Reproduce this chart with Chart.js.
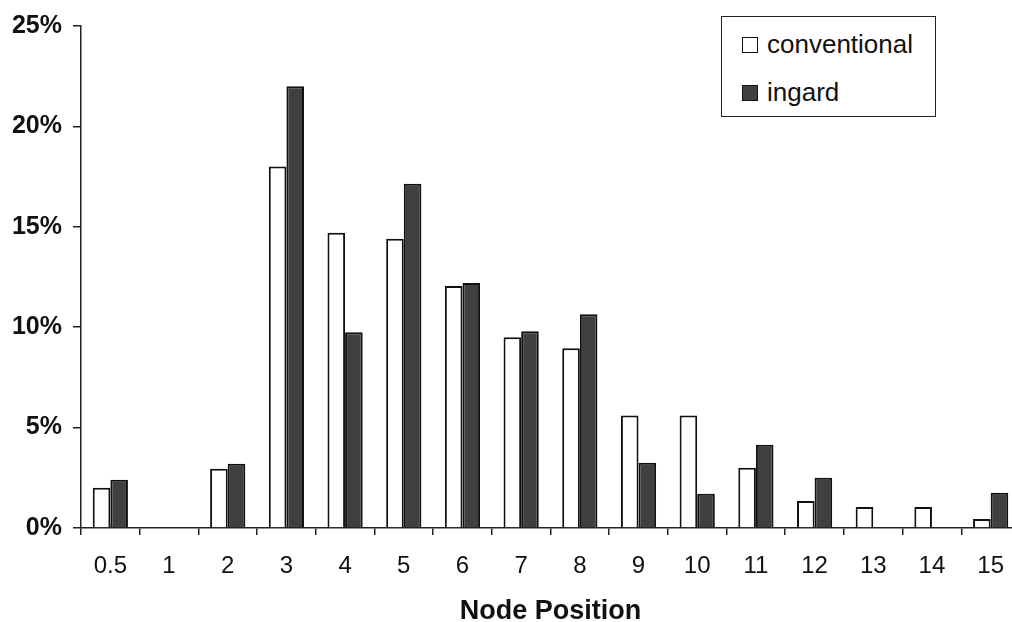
<!DOCTYPE html>
<html>
<head>
<meta charset="utf-8">
<script src="https://cdn.jsdelivr.net/npm/chart.js@4.4.1/dist/chart.umd.min.js"></script>
<style>
    html, body { margin: 0; padding: 0; background: #fff; overflow: hidden; }
    #wrap { position: relative; width: 1021px; height: 622px; }
    #legend {
        position: absolute; left: 721px; top: 16px; width: 213px; height: 99px;
        border: 1.5px solid #222; background: #fff;
        font-family: "Liberation Sans", Arial, sans-serif; font-size: 26px; color: #111;
    }
    #legend .item { position: absolute; left: 20px; display: flex; align-items: center; }
    #legend .box { width: 14px; height: 14px; border: 1.5px solid #111; margin-right: 9px; }
</style>
</head>
<body>
<div id="wrap">
    <canvas id="myBarChart" width="1021" height="622"></canvas>
    <div id="legend"></div>
</div>
<script>
const categories = ['0.5', '1', '2', '3', '4', '5', '6', '7', '8', '9', '10', '11', '12', '13', '14', '15'];
const conventional = [2.0, 0, 2.95, 18.0, 14.7, 14.4, 12.05, 9.5, 8.95, 5.6, 5.6, 3.0, 1.35, 1.05, 1.05, 0.45];
const ingard = [2.4, 0, 3.2, 22.0, 9.75, 17.15, 12.2, 9.8, 10.65, 3.25, 1.7, 4.15, 2.5, 0, 0, 1.75];
const yTicks = [0, 5, 10, 15, 20, 25];

document.addEventListener('DOMContentLoaded', () => {
    const ctxBar = document.getElementById("myBarChart").getContext("2d");
    const font = '"Liberation Sans", Arial, sans-serif';

    const myBarChart = new Chart(ctxBar, {
        type: 'bar',
        data: {
            labels: categories,
            datasets: [
                {
                    label: 'conventional',
                    data: conventional,
                    backgroundColor: '#ffffff',
                    borderColor: '#111111',
                    borderWidth: 2
                },
                {
                    label: 'ingard',
                    data: ingard,
                    backgroundColor: '#404040',
                    borderColor: '#111111',
                    borderWidth: 2
                }
            ]
        },
        options: {
            responsive: false,
            animation: false,
            categoryPercentage: 0.6,
            barPercentage: 1.0,
            layout: { padding: { top: -3, right: 0, left: 0, bottom: 0 } },
            scales: {
                y: {
                    min: 0,
                    max: 25,
                    afterBuildTicks: (axis) => { axis.ticks = yTicks.map(v => ({ value: v })); },
                    afterFit: (scale) => { scale.width = 81; },
                    ticks: {
                        color: '#111',
                        padding: 11,
                        font: { family: font, size: 25, weight: 'bold' },
                        callback: (v) => v + '%'
                    },
                    grid: { drawOnChartArea: false, tickLength: 8, color: '#222', lineWidth: 1.5 },
                    border: { display: true, color: '#222', width: 1.5 }
                },
                x: {
                    afterFit: (scale) => { scale.height = 94; },
                    ticks: {
                        color: '#111',
                        padding: 17,
                        maxRotation: 0,
                        font: { family: font, size: 24 }
                    },
                    grid: { drawOnChartArea: false, tickLength: 7, color: '#222', lineWidth: 1.5, offset: true },
                    border: { display: true, color: '#222', width: 1.5 },
                    title: {
                        display: true,
                        text: 'Node Position',
                        color: '#111',
                        font: { family: font, size: 27, weight: 'bold' },
                        padding: { top: 0, bottom: -6 }
                    }
                }
            },
            plugins: {
                legend: { display: false },
                tooltip: { enabled: false }
            }
        }
    });

    // Leyenda con recuadro, dentro del área del gráfico
    const legend = document.getElementById('legend');
    myBarChart.data.datasets.forEach((ds, i) => {
        const item = document.createElement('div');
        item.className = 'item';
        item.style.top = (i === 0 ? 12 : 60) + 'px';
        const box = document.createElement('span');
        box.className = 'box';
        box.style.background = ds.backgroundColor;
        const txt = document.createElement('span');
        txt.textContent = ds.label;
        item.appendChild(box);
        item.appendChild(txt);
        legend.appendChild(item);
    });
});
</script>
</body>
</html>
